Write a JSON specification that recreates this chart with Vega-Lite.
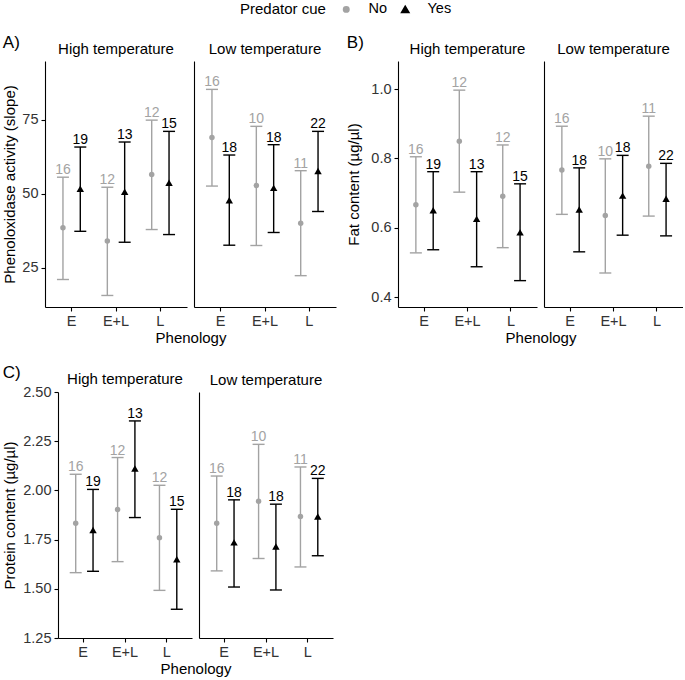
{
 "$schema": "https://vega.github.io/schema/vega-lite/v6.json",
 "background": "white",
 "padding": {"left": 2, "top": 2, "right": 0, "bottom": 0},
 "datasets": {"d": [
  {"m":"A","temp":"High","phen":"E","cue":"No","mean":38.5,"lo":21.0,"hi":55.6,"n":16},
  {"m":"A","temp":"High","phen":"E","cue":"Yes","mean":51.7,"lo":37.3,"hi":65.8,"n":19},
  {"m":"A","temp":"High","phen":"E+L","cue":"No","mean":34.0,"lo":15.6,"hi":52.2,"n":12},
  {"m":"A","temp":"High","phen":"E+L","cue":"Yes","mean":50.7,"lo":33.6,"hi":67.5,"n":13},
  {"m":"A","temp":"High","phen":"L","cue":"No","mean":56.5,"lo":37.9,"hi":74.9,"n":12},
  {"m":"A","temp":"High","phen":"L","cue":"Yes","mean":53.7,"lo":36.2,"hi":71.1,"n":15},
  {"m":"A","temp":"Low","phen":"E","cue":"No","mean":69.0,"lo":52.6,"hi":85.3,"n":16},
  {"m":"A","temp":"Low","phen":"E","cue":"Yes","mean":47.8,"lo":32.6,"hi":63.1,"n":18},
  {"m":"A","temp":"Low","phen":"E+L","cue":"No","mean":52.8,"lo":32.5,"hi":72.8,"n":10},
  {"m":"A","temp":"Low","phen":"E+L","cue":"Yes","mean":52.0,"lo":36.9,"hi":66.6,"n":18},
  {"m":"A","temp":"Low","phen":"L","cue":"No","mean":40.0,"lo":22.3,"hi":57.8,"n":11},
  {"m":"A","temp":"Low","phen":"L","cue":"Yes","mean":57.7,"lo":44.0,"hi":71.1,"n":22},
  {"m":"B","temp":"High","phen":"E","cue":"No","mean":0.667,"lo":0.528,"hi":0.805,"n":16},
  {"m":"B","temp":"High","phen":"E","cue":"Yes","mean":0.651,"lo":0.537,"hi":0.762,"n":19},
  {"m":"B","temp":"High","phen":"E+L","cue":"No","mean":0.850,"lo":0.703,"hi":0.997,"n":12},
  {"m":"B","temp":"High","phen":"E+L","cue":"Yes","mean":0.626,"lo":0.488,"hi":0.762,"n":13},
  {"m":"B","temp":"High","phen":"L","cue":"No","mean":0.691,"lo":0.543,"hi":0.839,"n":12},
  {"m":"B","temp":"High","phen":"L","cue":"Yes","mean":0.587,"lo":0.448,"hi":0.727,"n":15},
  {"m":"B","temp":"Low","phen":"E","cue":"No","mean":0.767,"lo":0.639,"hi":0.893,"n":16},
  {"m":"B","temp":"Low","phen":"E","cue":"Yes","mean":0.653,"lo":0.531,"hi":0.773,"n":18},
  {"m":"B","temp":"Low","phen":"E+L","cue":"No","mean":0.636,"lo":0.470,"hi":0.799,"n":10},
  {"m":"B","temp":"Low","phen":"E+L","cue":"Yes","mean":0.693,"lo":0.579,"hi":0.809,"n":18},
  {"m":"B","temp":"Low","phen":"L","cue":"No","mean":0.778,"lo":0.634,"hi":0.922,"n":11},
  {"m":"B","temp":"Low","phen":"L","cue":"Yes","mean":0.684,"lo":0.577,"hi":0.786,"n":22},
  {"m":"C","temp":"High","phen":"E","cue":"No","mean":1.833,"lo":1.582,"hi":2.082,"n":16},
  {"m":"C","temp":"High","phen":"E","cue":"Yes","mean":1.799,"lo":1.589,"hi":2.005,"n":19},
  {"m":"C","temp":"High","phen":"E+L","cue":"No","mean":1.903,"lo":1.638,"hi":2.167,"n":12},
  {"m":"C","temp":"High","phen":"E+L","cue":"Yes","mean":2.111,"lo":1.862,"hi":2.353,"n":13},
  {"m":"C","temp":"High","phen":"L","cue":"No","mean":1.760,"lo":1.492,"hi":2.026,"n":12},
  {"m":"C","temp":"High","phen":"L","cue":"Yes","mean":1.650,"lo":1.396,"hi":1.904,"n":15},
  {"m":"C","temp":"Low","phen":"E","cue":"No","mean":1.833,"lo":1.591,"hi":2.073,"n":16},
  {"m":"C","temp":"Low","phen":"E","cue":"Yes","mean":1.736,"lo":1.509,"hi":1.952,"n":18},
  {"m":"C","temp":"Low","phen":"E+L","cue":"No","mean":1.945,"lo":1.654,"hi":2.234,"n":10},
  {"m":"C","temp":"Low","phen":"E+L","cue":"Yes","mean":1.715,"lo":1.494,"hi":1.930,"n":18},
  {"m":"C","temp":"Low","phen":"L","cue":"No","mean":1.867,"lo":1.611,"hi":2.119,"n":11},
  {"m":"C","temp":"Low","phen":"L","cue":"Yes","mean":1.867,"lo":1.668,"hi":2.061,"n":22}
 ]},
 "data": {"name": "d"},
 "config": {
  "font": "Liberation Sans",
  "view": {"stroke": null},
  "axis": {"domainColor": "black", "domainWidth": 1.1, "tickColor": "black", "tickWidth": 1.1, "tickSize": 4, "labelColor": "#333333", "labelFontSize": 14.5, "labelPadding": 3, "titleFontSize": 15, "titleFontWeight": "normal", "titleColor": "black", "grid": false},
  "axisX": {"labelAngle": 0},
  "title": {"fontSize": 15, "fontWeight": "normal", "color": "black", "offset": 4, "frame": "group"},
  "legend": {"direction": "horizontal", "titleOrient": "left", "titleFontSize": 15, "titleFontWeight": "normal", "titleColor": "black", "labelFontSize": 14.5, "labelColor": "black", "symbolSize": 45, "titlePadding": 13, "columnPadding": 10, "labelOffset": 15}
 },
 "resolve": {"scale": {"color": "shared", "shape": "shared", "size": "shared"}},
 "columns": 1,
 "spacing": 18,
 "concat": [
  {
   "spacing": 10,
   "resolve": {"scale": {"color": "shared", "shape": "shared", "size": "shared"}},
   "hconcat": [
    {
     "title": {"text": "A)", "anchor": "start", "frame": "bounds", "fontSize": 17, "offset": -10},
     "spacing": 7, "bounds": "flush",
     "resolve": {"scale": {"color": "shared", "shape": "shared", "size": "shared"}},
     "hconcat": [
      {
       "width": 142, "height": 246,
       "title": {"text": "High temperature"},
       "transform": [{"filter": "datum.m == 'A' && datum.temp == 'High'"}],
       "encoding": {
        "x": {"field": "phen", "type": "nominal", "sort": ["E","E+L","L"], "scale": {"paddingInner": 0, "paddingOuter": 0.1}, "axis": {"title": "Phenology", "titleX": 145.5, "titlePadding": 3}},
        "xOffset": {"field": "cue", "type": "nominal", "sort": ["No","Yes"], "scale": {"paddingInner": 0, "paddingOuter": 0.28}},
        "color": {"field": "cue", "type": "nominal", "title": "Predator cue", "scale": {"domain": ["No","Yes"], "range": ["#a3a3a3","#000000"]}, "legend": {"orient": "none", "legendX": 195, "legendY": -59}}
       },
       "layer": [
        {"mark": {"type": "rule", "strokeWidth": 1.4, "opacity": 1}, "encoding": {"y": {"field": "lo", "type": "quantitative", "title": "Phenoloxidase activity (slope)", "scale": {"domain": [11.7, 94.9], "nice": false, "zero": false}, "axis": {"values": [25, 50, 75], "titlePadding": 4}}, "y2": {"field": "hi"}}},
        {"mark": {"type": "tick", "thickness": 1.4, "size": 12, "opacity": 1}, "encoding": {"y": {"field": "lo", "type": "quantitative", "title": "Phenoloxidase activity (slope)"}}},
        {"mark": {"type": "tick", "thickness": 1.4, "size": 12, "opacity": 1}, "encoding": {"y": {"field": "hi", "type": "quantitative", "title": "Phenoloxidase activity (slope)"}}},
        {"mark": {"type": "point", "filled": true, "opacity": 1}, "encoding": {"y": {"field": "mean", "type": "quantitative", "title": "Phenoloxidase activity (slope)"}, "shape": {"field": "cue", "type": "nominal", "title": "Predator cue", "scale": {"domain": ["No","Yes"], "range": ["circle","triangle-up"]}, "legend": {"orient": "none", "legendX": 195, "legendY": -59}}, "size": {"field": "cue", "type": "nominal", "scale": {"domain": ["No","Yes"], "range": [30, 55]}, "legend": null}}},
        {"mark": {"type": "text", "baseline": "alphabetic", "dy": -3, "fontSize": 14}, "encoding": {"y": {"field": "hi", "type": "quantitative", "title": "Phenoloxidase activity (slope)"}, "text": {"field": "n", "type": "nominal"}}}
       ]
      },
      {
       "width": 142, "height": 246,
       "title": {"text": "Low temperature"},
       "transform": [{"filter": "datum.m == 'A' && datum.temp == 'Low'"}],
       "encoding": {
        "x": {"field": "phen", "type": "nominal", "sort": ["E","E+L","L"], "scale": {"paddingInner": 0, "paddingOuter": 0.1}, "axis": {"title": null}},
        "xOffset": {"field": "cue", "type": "nominal", "sort": ["No","Yes"], "scale": {"paddingInner": 0, "paddingOuter": 0.28}},
        "color": {"field": "cue", "type": "nominal", "title": "Predator cue", "scale": {"domain": ["No","Yes"], "range": ["#a3a3a3","#000000"]}}
       },
       "layer": [
        {"mark": {"type": "rule", "strokeWidth": 1.4, "opacity": 1}, "encoding": {"y": {"field": "lo", "type": "quantitative", "title": null, "scale": {"domain": [11.7, 94.9], "nice": false, "zero": false}, "axis": {"values": [25, 50, 75], "labels": false, "ticks": false}}, "y2": {"field": "hi"}}},
        {"mark": {"type": "tick", "thickness": 1.4, "size": 12, "opacity": 1}, "encoding": {"y": {"field": "lo", "type": "quantitative", "title": null}}},
        {"mark": {"type": "tick", "thickness": 1.4, "size": 12, "opacity": 1}, "encoding": {"y": {"field": "hi", "type": "quantitative", "title": null}}},
        {"mark": {"type": "point", "filled": true, "opacity": 1}, "encoding": {"y": {"field": "mean", "type": "quantitative", "title": null}, "shape": {"field": "cue", "type": "nominal", "title": "Predator cue", "scale": {"domain": ["No","Yes"], "range": ["circle","triangle-up"]}}, "size": {"field": "cue", "type": "nominal", "scale": {"domain": ["No","Yes"], "range": [30, 55]}, "legend": null}}},
        {"mark": {"type": "text", "baseline": "alphabetic", "dy": -3, "fontSize": 14}, "encoding": {"y": {"field": "hi", "type": "quantitative", "title": null}, "text": {"field": "n", "type": "nominal"}}}
       ]
      }
     ]
    },
    {
     "title": {"text": "B)", "anchor": "start", "frame": "bounds", "fontSize": 17, "offset": -10},
     "spacing": 7, "bounds": "flush",
     "resolve": {"scale": {"color": "shared", "shape": "shared", "size": "shared"}},
     "hconcat": [
      {
       "width": 139, "height": 246,
       "title": {"text": "High temperature"},
       "transform": [{"filter": "datum.m == 'B' && datum.temp == 'High'"}],
       "encoding": {
        "x": {"field": "phen", "type": "nominal", "sort": ["E","E+L","L"], "scale": {"paddingInner": 0, "paddingOuter": 0.1}, "axis": {"title": "Phenology", "titleX": 142.5, "titlePadding": 3}},
        "xOffset": {"field": "cue", "type": "nominal", "sort": ["No","Yes"], "scale": {"paddingInner": 0, "paddingOuter": 0.28}},
        "color": {"field": "cue", "type": "nominal", "title": "Predator cue", "scale": {"domain": ["No","Yes"], "range": ["#a3a3a3","#000000"]}}
       },
       "layer": [
        {"mark": {"type": "rule", "strokeWidth": 1.4, "opacity": 1}, "encoding": {"y": {"field": "lo", "type": "quantitative", "title": "Fat content (µg/µl)", "scale": {"domain": [0.372, 1.081], "nice": false, "zero": false}, "axis": {"values": [0.4, 0.6, 0.8, 1.0], "format": ".1f", "titlePadding": 9}}, "y2": {"field": "hi"}}},
        {"mark": {"type": "tick", "thickness": 1.4, "size": 12, "opacity": 1}, "encoding": {"y": {"field": "lo", "type": "quantitative", "title": "Fat content (µg/µl)"}}},
        {"mark": {"type": "tick", "thickness": 1.4, "size": 12, "opacity": 1}, "encoding": {"y": {"field": "hi", "type": "quantitative", "title": "Fat content (µg/µl)"}}},
        {"mark": {"type": "point", "filled": true, "opacity": 1}, "encoding": {"y": {"field": "mean", "type": "quantitative", "title": "Fat content (µg/µl)"}, "shape": {"field": "cue", "type": "nominal", "title": "Predator cue", "scale": {"domain": ["No","Yes"], "range": ["circle","triangle-up"]}}, "size": {"field": "cue", "type": "nominal", "scale": {"domain": ["No","Yes"], "range": [30, 55]}, "legend": null}}},
        {"mark": {"type": "text", "baseline": "alphabetic", "dy": -3, "fontSize": 14}, "encoding": {"y": {"field": "hi", "type": "quantitative", "title": "Fat content (µg/µl)"}, "text": {"field": "n", "type": "nominal"}}}
       ]
      },
      {
       "width": 139, "height": 246,
       "title": {"text": "Low temperature"},
       "transform": [{"filter": "datum.m == 'B' && datum.temp == 'Low'"}],
       "encoding": {
        "x": {"field": "phen", "type": "nominal", "sort": ["E","E+L","L"], "scale": {"paddingInner": 0, "paddingOuter": 0.1}, "axis": {"title": null}},
        "xOffset": {"field": "cue", "type": "nominal", "sort": ["No","Yes"], "scale": {"paddingInner": 0, "paddingOuter": 0.28}},
        "color": {"field": "cue", "type": "nominal", "title": "Predator cue", "scale": {"domain": ["No","Yes"], "range": ["#a3a3a3","#000000"]}}
       },
       "layer": [
        {"mark": {"type": "rule", "strokeWidth": 1.4, "opacity": 1}, "encoding": {"y": {"field": "lo", "type": "quantitative", "title": null, "scale": {"domain": [0.372, 1.081], "nice": false, "zero": false}, "axis": {"values": [0.4, 0.6, 0.8, 1.0], "labels": false, "ticks": false}}, "y2": {"field": "hi"}}},
        {"mark": {"type": "tick", "thickness": 1.4, "size": 12, "opacity": 1}, "encoding": {"y": {"field": "lo", "type": "quantitative", "title": null}}},
        {"mark": {"type": "tick", "thickness": 1.4, "size": 12, "opacity": 1}, "encoding": {"y": {"field": "hi", "type": "quantitative", "title": null}}},
        {"mark": {"type": "point", "filled": true, "opacity": 1}, "encoding": {"y": {"field": "mean", "type": "quantitative", "title": null}, "shape": {"field": "cue", "type": "nominal", "title": "Predator cue", "scale": {"domain": ["No","Yes"], "range": ["circle","triangle-up"]}}, "size": {"field": "cue", "type": "nominal", "scale": {"domain": ["No","Yes"], "range": [30, 55]}, "legend": null}}},
        {"mark": {"type": "text", "baseline": "alphabetic", "dy": -3, "fontSize": 14}, "encoding": {"y": {"field": "hi", "type": "quantitative", "title": null}, "text": {"field": "n", "type": "nominal"}}}
       ]
      }
     ]
    }
   ]
  },
  {
   "title": {"text": "C)", "anchor": "start", "frame": "bounds", "fontSize": 17, "offset": -10},
   "spacing": 7, "bounds": "flush",
   "resolve": {"scale": {"color": "shared", "shape": "shared", "size": "shared"}},
   "hconcat": [
    {
     "width": 6, "height": 246,
     "data": {"values": []},
     "mark": "point"
    },
    {
     "width": 134, "height": 246,
     "title": {"text": "High temperature", "offset": -3},
     "transform": [{"filter": "datum.m == 'C' && datum.temp == 'High'"}],
     "encoding": {
      "x": {"field": "phen", "type": "nominal", "sort": ["E","E+L","L"], "scale": {"paddingInner": 0, "paddingOuter": 0.1}, "axis": {"title": "Phenology", "titleX": 137.5, "titlePadding": 3}},
      "xOffset": {"field": "cue", "type": "nominal", "sort": ["No","Yes"], "scale": {"paddingInner": 0, "paddingOuter": 0.28}},
      "color": {"field": "cue", "type": "nominal", "title": "Predator cue", "scale": {"domain": ["No","Yes"], "range": ["#a3a3a3","#000000"]}}
     },
     "layer": [
      {"mark": {"type": "rule", "strokeWidth": 1.4, "opacity": 1}, "encoding": {"y": {"field": "lo", "type": "quantitative", "title": "Protein content (µg/µl)", "scale": {"domain": [1.25, 2.5], "nice": false, "zero": false}, "axis": {"values": [1.25, 1.5, 1.75, 2.0, 2.25, 2.5], "format": ".2f", "titlePadding": 5}}, "y2": {"field": "hi"}}},
      {"mark": {"type": "tick", "thickness": 1.4, "size": 12, "opacity": 1}, "encoding": {"y": {"field": "lo", "type": "quantitative", "title": "Protein content (µg/µl)"}}},
      {"mark": {"type": "tick", "thickness": 1.4, "size": 12, "opacity": 1}, "encoding": {"y": {"field": "hi", "type": "quantitative", "title": "Protein content (µg/µl)"}}},
      {"mark": {"type": "point", "filled": true, "opacity": 1}, "encoding": {"y": {"field": "mean", "type": "quantitative", "title": "Protein content (µg/µl)"}, "shape": {"field": "cue", "type": "nominal", "title": "Predator cue", "scale": {"domain": ["No","Yes"], "range": ["circle","triangle-up"]}}, "size": {"field": "cue", "type": "nominal", "scale": {"domain": ["No","Yes"], "range": [30, 55]}, "legend": null}}},
      {"mark": {"type": "text", "baseline": "alphabetic", "dy": -3, "fontSize": 14}, "encoding": {"y": {"field": "hi", "type": "quantitative", "title": "Protein content (µg/µl)"}, "text": {"field": "n", "type": "nominal"}}}
     ]
    },
    {
     "width": 134, "height": 246,
     "title": {"text": "Low temperature"},
     "transform": [{"filter": "datum.m == 'C' && datum.temp == 'Low'"}],
     "encoding": {
      "x": {"field": "phen", "type": "nominal", "sort": ["E","E+L","L"], "scale": {"paddingInner": 0, "paddingOuter": 0.1}, "axis": {"title": null}},
      "xOffset": {"field": "cue", "type": "nominal", "sort": ["No","Yes"], "scale": {"paddingInner": 0, "paddingOuter": 0.28}},
      "color": {"field": "cue", "type": "nominal", "title": "Predator cue", "scale": {"domain": ["No","Yes"], "range": ["#a3a3a3","#000000"]}}
     },
     "layer": [
      {"mark": {"type": "rule", "strokeWidth": 1.4, "opacity": 1}, "encoding": {"y": {"field": "lo", "type": "quantitative", "title": null, "scale": {"domain": [1.25, 2.5], "nice": false, "zero": false}, "axis": {"values": [1.25, 1.5, 1.75, 2.0, 2.25, 2.5], "labels": false, "ticks": false}}, "y2": {"field": "hi"}}},
      {"mark": {"type": "tick", "thickness": 1.4, "size": 12, "opacity": 1}, "encoding": {"y": {"field": "lo", "type": "quantitative", "title": null}}},
      {"mark": {"type": "tick", "thickness": 1.4, "size": 12, "opacity": 1}, "encoding": {"y": {"field": "hi", "type": "quantitative", "title": null}}},
      {"mark": {"type": "point", "filled": true, "opacity": 1}, "encoding": {"y": {"field": "mean", "type": "quantitative", "title": null}, "shape": {"field": "cue", "type": "nominal", "title": "Predator cue", "scale": {"domain": ["No","Yes"], "range": ["circle","triangle-up"]}}, "size": {"field": "cue", "type": "nominal", "scale": {"domain": ["No","Yes"], "range": [30, 55]}, "legend": null}}},
      {"mark": {"type": "text", "baseline": "alphabetic", "dy": -3, "fontSize": 14}, "encoding": {"y": {"field": "hi", "type": "quantitative", "title": null}, "text": {"field": "n", "type": "nominal"}}}
     ]
    }
   ]
  }
 ]
}
